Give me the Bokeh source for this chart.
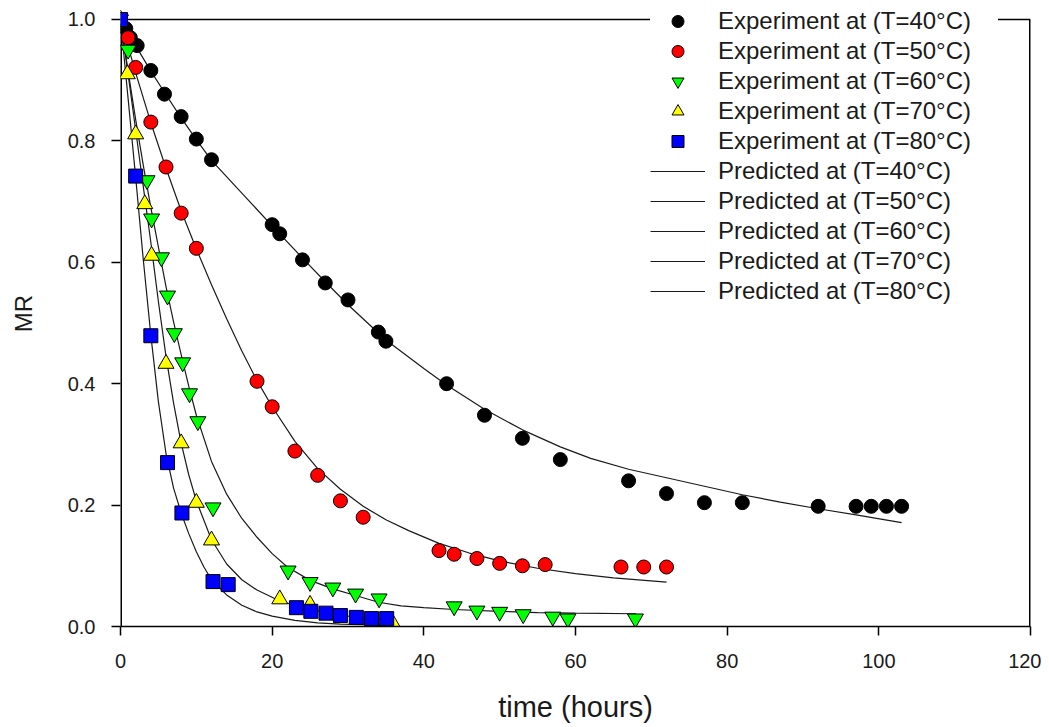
from bokeh.plotting import figure
from bokeh.models import Legend, LegendItem, FixedTicker, Range1d, NumeralTickFormatter
from bokeh.embed import file_html
from bokeh.resources import INLINE

# ---- data ----
t40 = [0, 0.7, 1.3, 2.2, 4, 5.8, 8, 10, 12, 20, 21, 24, 27, 30, 34, 35, 43, 48, 53, 58, 67, 72, 77, 82, 92, 97, 99, 101, 103]
mr40 = [1.0, 0.985, 0.97, 0.957, 0.916, 0.877, 0.84, 0.803, 0.769, 0.662, 0.647, 0.604, 0.566, 0.538, 0.485, 0.47,
        0.40, 0.348, 0.31, 0.275, 0.24, 0.219, 0.204, 0.204, 0.198, 0.198, 0.198, 0.198, 0.198]

t50 = [0, 1, 2, 4, 6, 8, 10, 18, 20, 23, 26, 29, 32, 42, 44, 47, 50, 53, 56, 66, 69, 72]
mr50 = [1.0, 0.97, 0.921, 0.831, 0.757, 0.681, 0.623, 0.404, 0.362, 0.289, 0.249, 0.207, 0.18,
        0.125, 0.119, 0.112, 0.104, 0.1, 0.102, 0.098, 0.098, 0.098]

t60 = [0, 1, 3.5, 4.1, 5.4, 6.2, 7.1, 8.2, 9.1, 10.2, 12.2, 22.1, 25, 28, 31, 34.1, 44, 47, 50, 53.1, 57, 59, 67.9]
mr60 = [1.0, 0.95, 0.735, 0.672, 0.608, 0.545, 0.483, 0.435, 0.384, 0.338, 0.196, 0.092, 0.073, 0.064, 0.054,
        0.046, 0.033, 0.026, 0.024, 0.02, 0.016, 0.013, 0.013]

t70 = [0, 0.9, 2, 3.2, 4.1, 6, 8, 10, 12, 21, 25, 36]
mr70 = [1.0, 0.91, 0.811, 0.696, 0.611, 0.433, 0.302, 0.204, 0.142, 0.045, 0.036, 0.003]

t80 = [0, 2, 4, 6.2, 8.1, 12.2, 14.2, 23.2, 25.1, 27.1, 29, 31.1, 33.1, 35.1]
mr80 = [1.0, 0.742, 0.479, 0.27, 0.187, 0.074, 0.069, 0.031, 0.025, 0.022, 0.018, 0.015, 0.013, 0.013]

pt40 = [0, 2, 4, 6, 8, 10, 12, 16, 20, 24, 27, 30, 35, 40, 43, 48, 53, 58, 62, 67, 72, 77, 82, 87, 92, 97, 103]
pmr40 = [1.0, 0.957, 0.915, 0.876, 0.838, 0.802, 0.768, 0.714, 0.66, 0.607, 0.568, 0.53, 0.472, 0.425, 0.398,
         0.358, 0.324, 0.296, 0.277, 0.259, 0.245, 0.231, 0.217, 0.205, 0.194, 0.184, 0.171]

pt50 = [0, 2, 4, 6, 8, 10, 12, 14, 16, 18, 20, 23, 26, 29, 32, 35, 38, 42, 46, 50, 55, 60, 65, 72]
pmr50 = [1.0, 0.912, 0.83, 0.755, 0.685, 0.622, 0.563, 0.507, 0.454, 0.405, 0.362, 0.305, 0.26, 0.226, 0.198,
         0.176, 0.158, 0.137, 0.121, 0.108, 0.096, 0.087, 0.08, 0.073]

pt60 = [0, 1, 2, 3, 4, 5, 6, 7, 8, 9, 10, 12, 14, 16, 18, 20, 22, 25, 28, 31, 34, 37, 40, 44, 50, 55, 60, 68]
pmr60 = [1.0, 0.915, 0.835, 0.76, 0.69, 0.625, 0.56, 0.502, 0.448, 0.396, 0.348, 0.272, 0.218, 0.178, 0.147,
         0.12, 0.098, 0.076, 0.062, 0.051, 0.04, 0.034, 0.031, 0.028, 0.025, 0.023, 0.022, 0.021]

pt70 = [0, 1, 2, 3, 4, 5, 6, 7, 8, 9, 10, 12, 14, 16, 18, 21, 24, 27, 30, 33, 36]
pmr70 = [1.0, 0.91, 0.818, 0.725, 0.633, 0.535, 0.445, 0.368, 0.302, 0.25, 0.207, 0.143, 0.103, 0.077, 0.06,
         0.042, 0.031, 0.023, 0.017, 0.013, 0.01]

pt80 = [0, 1, 2, 3, 4, 5, 6, 7, 8, 9, 10, 11, 12, 14, 16, 18, 20, 23, 26, 29, 32, 35]
pmr80 = [1.0, 0.87, 0.74, 0.605, 0.48, 0.37, 0.285, 0.228, 0.187, 0.153, 0.123, 0.098, 0.077, 0.052, 0.035,
         0.024, 0.017, 0.01, 0.006, 0.004, 0.003, 0.002]

exp_labels = ["Experiment at (T=40°C)", "Experiment at (T=50°C)", "Experiment at (T=60°C)",
              "Experiment at (T=70°C)", "Experiment at (T=80°C)"]
pred_labels = ["Predicted at (T=40°C)", "Predicted at (T=50°C)", "Predicted at (T=60°C)",
               "Predicted at (T=70°C)", "Predicted at (T=80°C)"]
x_ticks = [0, 20, 40, 60, 80, 100, 120]
y_ticks = [0.0, 0.2, 0.4, 0.6, 0.8, 1.0]
X_MAX = 120
Y_MAX = 1.0
Y_TOP = 1.0313   # a little head-room above the box so the legend is not clipped

FONT = "Liberation Sans"
TXT = "#1a1a1a"

p = figure(width=1041, height=727, x_range=Range1d(0, X_MAX), y_range=Range1d(0, Y_TOP),
           output_backend="svg", toolbar_location=None,
           min_border_left=120, min_border_right=11, min_border_top=0, min_border_bottom=101)
p.background_fill_color = "white"
p.border_fill_color = "white"
p.xgrid.visible = False
p.ygrid.visible = False
p.outline_line_color = None

for ax in (p.xaxis[0], p.yaxis[0]):
    ax.axis_line_color = "black"
    ax.axis_line_width = 1.5
    ax.major_tick_line_color = "black"
    ax.major_tick_line_width = 1.5
    ax.major_tick_out = 9
    ax.major_tick_in = 0
    ax.minor_tick_line_color = None
    ax.major_label_text_font = FONT
    ax.major_label_text_font_size = "20px"
    ax.major_label_text_color = TXT
    ax.axis_label_text_font = FONT
    ax.axis_label_text_font_style = "normal"
    ax.axis_label_text_color = TXT
p.yaxis[0].axis_line_color = None

p.xaxis[0].ticker = FixedTicker(ticks=x_ticks)
p.yaxis[0].ticker = FixedTicker(ticks=y_ticks)
p.xaxis[0].formatter = NumeralTickFormatter(format="0")
p.yaxis[0].formatter = NumeralTickFormatter(format="0.0")
p.xaxis[0].axis_label = "time (hours)"
p.yaxis[0].axis_label = "MR"
p.xaxis[0].axis_label_text_font_size = "29px"
p.yaxis[0].axis_label_text_font_size = "24px"
p.xaxis[0].major_label_standoff = 18
p.xaxis[0].axis_label_standoff = 20
p.yaxis[0].major_label_standoff = 16
p.yaxis[0].axis_label_standoff = 28

# box: left/right sides and top edge from the axis extents (drawn as glyphs, under the legend)
p.segment(x0=[0, X_MAX], y0=[0, 0], x1=[0, X_MAX], y1=[Y_MAX, Y_MAX], line_color="black", line_width=3)
p.segment(x0=[0], y0=[Y_MAX], x1=[X_MAX], y1=[Y_MAX], line_color="black", line_width=1.5)

LINE_C = "#1a1a1a"
line_rs = []
for tt, mm in [(pt40, pmr40), (pt50, pmr50), (pt60, pmr60), (pt70, pmr70), (pt80, pmr80)]:
    line_rs.append(p.line(tt, mm, line_color=LINE_C, line_width=1.2))

exp_specs = [
    (t40, mr40, "circle", 14, "black"),
    (t50, mr50, "circle", 14, "#ff0000"),
    (t60, mr60, "inverted_triangle", 16, "#00ff00"),
    (t70, mr70, "triangle", 16, "#ffff00"),
    (t80, mr80, "square", 14, "#0000ff"),
]
exp_rs = []
for tt, mm, mk, sz, col in exp_specs:
    exp_rs.append(p.scatter(tt, mm, marker=mk, size=sz, fill_color=col, line_color="black", line_width=1))

items = [LegendItem(label=lab, renderers=[r]) for lab, r in zip(exp_labels, exp_rs)]
items += [LegendItem(label=lab, renderers=[r]) for lab, r in zip(pred_labels, line_rs)]

legend = Legend(items=items, location=(530, 320), orientation="vertical",
                glyph_width=55, glyph_height=30, label_height=30, label_width=280, spacing=0,
                label_standoff=13, padding=17, margin=0,
                label_text_font=FONT, label_text_font_size="24px", label_text_color=TXT,
                border_line_color=None, background_fill_color="white", background_fill_alpha=1.0)
p.add_layout(legend)

open("out.html", "w").write(file_html(p, INLINE))
